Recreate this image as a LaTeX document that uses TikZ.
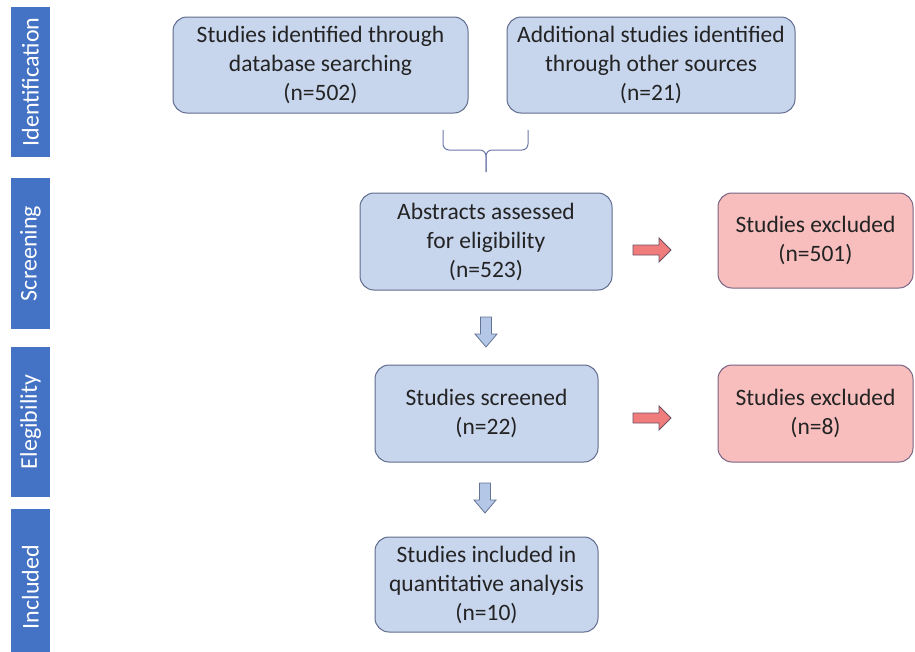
\documentclass[tikz,border=0pt]{standalone}
\usepackage{fontspec}
\setmainfont{Carlito}
\definecolor{boxfill}{RGB}{199,213,237}
\definecolor{boxline}{RGB}{96,108,140}
\definecolor{redfill}{RGB}{248,190,190}
\definecolor{redline}{RGB}{120,100,130}
\definecolor{barfill}{RGB}{68,114,196}
\definecolor{textc}{RGB}{35,35,35}
\definecolor{rarrfill}{RGB}{240,124,124}
\definecolor{rarrline}{RGB}{110,80,100}
\definecolor{darrfill}{RGB}{180,199,231}
\definecolor{darrline}{RGB}{100,115,150}
\definecolor{bracec}{RGB}{110,120,170}
\begin{document}
\begin{tikzpicture}[x=1pt,y=-1pt,
  font=\fontsize{23.5}{29}\selectfont,
  box/.style={draw=boxline, fill=boxfill, rounded corners=14pt, line width=1pt,
    text=textc, align=center, inner sep=0pt},
  redbox/.style={box, draw=redline, fill=redfill},
  bar/.style={fill=barfill, text=white, rotate=90, inner sep=0pt,
    minimum height=39pt, font=\fontsize{24}{28}\selectfont},
  rarrow/.pic={\draw[fill=rarrfill, draw=rarrline, line width=0.8pt, line join=miter]
    (-19,-5) -- (7,-5) -- (7,-12) -- (19,0) -- (7,12) -- (7,5) -- (-19,5) -- cycle;},
  darrow/.pic={\draw[fill=darrfill, draw=darrline, line width=0.8pt, line join=miter]
    (-5.5,-15) -- (5.5,-15) -- (5.5,2) -- (11,2) -- (0,15) -- (-11,2) -- (-5.5,2) -- cycle;},
  bracestyle/.style={draw=bracec, line width=1pt, rounded corners=6pt}
]
\useasboundingbox (0,0) rectangle (915,651);

% stage bars
\node[bar, minimum width=150pt] (sid) at (30.5,82) {Identification};
\node[bar, minimum width=151pt] (ssc) at (30.5,253.5) {Screening};
\node[bar, minimum width=150pt] (sel) at (30.5,422) {Elegibility};
\node[bar, minimum width=156pt] (sin) at (30.5,587) {Included};

% boxes
\node[box, minimum width=295pt, minimum height=96pt] (db) at (320.5,65)
  {Studies identified through\\database searching\\(n=502)};
\node[box, minimum width=288pt, minimum height=96pt] (other) at (651,65)
  {Additional studies identified\\through other sources\\(n=21)};
\node[box, minimum width=252pt, minimum height=97pt] (abs) at (486,241.5)
  {Abstracts assessed\\for eligibility\\(n=523)};
\node[redbox, minimum width=195pt, minimum height=95pt] (ex1) at (815.5,240.5)
  {Studies excluded\\(n=501)};
\node[box, minimum width=223pt, minimum height=97pt] (scr) at (486.5,413.5)
  {Studies screened\\(n=22)};
\node[redbox, minimum width=195pt, minimum height=97pt] (ex2) at (815.5,413.5)
  {Studies excluded\\(n=8)};
\node[box, minimum width=223pt, minimum height=95pt] (inc) at (486.5,584.5)
  {Studies included in\\quantitative analysis\\(n=10)};

% brace
\coordinate (bl) at (443,130);
\coordinate (br) at (528,130);
\coordinate (bt) at (486,172);
\draw[bracestyle] (bl) -- (bl |- 0,150) -- (bt |- 0,150) -- (bt);
\draw[bracestyle] (br) -- (br |- 0,150) -- (bt |- 0,150) -- (bt);

% block arrows
\pic at (652,250) {rarrow};
\pic at (652,418) {rarrow};
\pic at (486,332) {darrow};
\pic at (485,498) {darrow};
\end{tikzpicture}
\end{document}
